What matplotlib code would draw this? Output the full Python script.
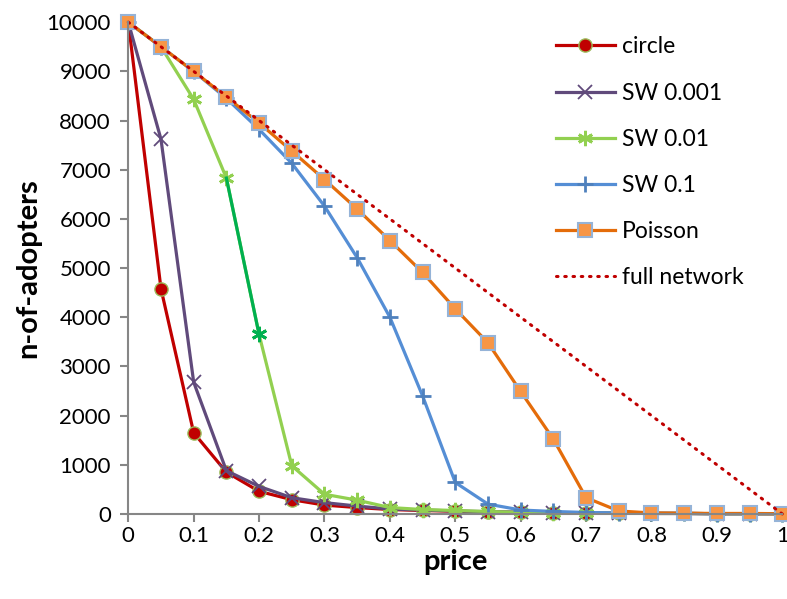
import numpy as np
import matplotlib.pyplot as plt

plt.rcParams['font.family'] = ['Lato', 'DejaVu Sans']

price = [0, 0.05, 0.1, 0.15, 0.2, 0.25, 0.3, 0.35, 0.4, 0.45, 0.5,
         0.55, 0.6, 0.65, 0.7, 0.75, 0.8, 0.85, 0.9, 0.95, 1.0]

circle = [10000, 4580, 1650, 850, 460, 290, 180, 130, 90, 70, 55,
          40, 30, 25, 20, 15, 10, 10, 5, 5, 5]
sw_0001 = [10000, 7620, 2680, 880, 560, 330, 230, 160, 100, 80, 60,
           45, 35, 25, 20, 15, 10, 10, 5, 5, 5]
sw_001 = [10000, 9500, 8430, 6830, 3650, 980, 400, 280, 130, 90, 70,
          50, 30, 25, 20, 15, 10, 10, 5, 5, 5]
sw_01 = [10000, 9500, 9000, 8450, 7820, 7130, 6260, 5210, 4000, 2400, 640,
         200, 80, 50, 30, 20, 15, 10, 5, 5, 5]
poisson = [10000, 9500, 9000, 8480, 7950, 7380, 6800, 6200, 5560, 4910, 4170,
           3480, 2490, 1520, 330, 60, 20, 15, 10, 10, 5]
full_network = [10000, 9500, 9000, 8500, 8000, 7500, 7000, 6500, 6000, 5500, 5000,
                4500, 4000, 3500, 3000, 2500, 2000, 1500, 1000, 500, 0]

fig = plt.figure(figsize=(7.87, 5.99), dpi=100)
ax = fig.add_axes([0.163, 0.142, 0.831, 0.821])

lw = 2.3
ax.plot(price, circle, color='#C00000', lw=lw, marker='o', ms=9.5,
        mfc='#C00000', mec='#9BBB59', mew=1, label='circle', clip_on=False)
ax.plot(price, sw_0001, color='#604A7B', lw=lw, marker='x', ms=10,
        mec='#604A7B', mew=1.3, label='SW 0.001', clip_on=False)
ax.plot(price, sw_001, color='#92D050', lw=lw, marker=(6, 2, 0), ms=11,
        mec='#92D050', mew=2, label='SW 0.01', clip_on=False)
# one segment of SW 0.01 drawn in a darker green
ax.plot(price[3:5], sw_001[3:5], color='#00B050', lw=lw, zorder=2.1)
ax.plot(price[4:5], sw_001[4:5], ls='none', marker=(6, 2, 0), ms=11,
        mec='#00B050', mew=2, zorder=2.2)
ax.plot(price, sw_01, color='#558ED5', lw=lw, marker='+', ms=12,
        mec='#4F81BD', mew=2, label='SW 0.1', clip_on=False)
ax.plot(price, poisson, color='#E46C0A', lw=lw, marker='s', ms=9.5,
        mfc='#F79646', mec='#95B3D7', mew=1.5, label='Poisson', clip_on=False)
ax.plot(price, full_network, color='#C00000', lw=2.2, ls=(0, (0.5, 2.2)),
        dash_capstyle='round', label='full network', clip_on=False)

ax.set_xlim(0, 1)
ax.set_ylim(0, 10000)
ax.set_xticks(np.arange(0, 1.01, 0.1))
ax.set_xticklabels(['0', '0.1', '0.2', '0.3', '0.4', '0.5', '0.6', '0.7', '0.8', '0.9', '1'])
ax.set_yticks(range(0, 10001, 1000))
ax.tick_params(labelsize=16, color='#868686', length=5.5, width=1.5)
ax.tick_params(axis='y', pad=7)
for s in ['top', 'right']:
    ax.spines[s].set_visible(False)
for s in ['left', 'bottom']:
    ax.spines[s].set_color('#868686')
    ax.spines[s].set_linewidth(1.5)

ax.set_xlabel('price', fontsize=21, fontweight='bold', labelpad=2)
ax.set_ylabel('n-of-adopters', fontsize=21, fontweight='bold', labelpad=4)

ax.legend(loc='upper left', bbox_to_anchor=(0.622, 1.013), frameon=False,
          fontsize=16.5, handlelength=2.6, labelspacing=1.1, handletextpad=0.3)

plt.savefig('out.png')
plt.close()
